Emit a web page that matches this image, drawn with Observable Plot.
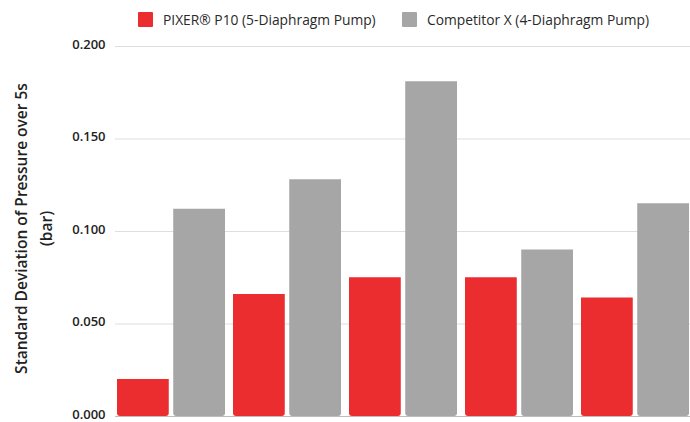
<!DOCTYPE html>
<html>
<head>
<meta charset="utf-8">
<script src="https://cdn.jsdelivr.net/npm/d3@7"></script>
<script src="https://cdn.jsdelivr.net/npm/@observablehq/plot@0.6"></script>
<style>
  html, body { margin: 0; padding: 0; background: #fff; overflow: hidden; }
  body { width: 690px; height: 422px; font-family: "Open Sans", sans-serif; }
  #legend { position: relative; height: 36px; }
  .sw { position: absolute; top: 12px; width: 15px; height: 15px; border-radius: 1px; }
  .lt { position: absolute; top: 10.5px; font-size: 13.8px; font-weight: 500; color: #2a2a2a; white-space: nowrap; line-height: 18px; }
  svg { display: block; }
</style>
</head>
<body>
<div id="legend"></div>
<div id="chart"></div>
<script>
const groups = ["1", "2", "3", "4", "5"];
const pixerValues = [0.020, 0.066, 0.075, 0.075, 0.064];
const competitorValues = [0.112, 0.128, 0.181, 0.090, 0.115];
const seriesNames = ["PIXER® P10 (5-Diaphragm Pump)", "Competitor X (4-Diaphragm Pump)"];
const seriesColors = ["#EC2D2F", "#A6A6A6"];
const yTicks = [0, 0.05, 0.1, 0.15, 0.2];
const yTitle = ["Standard Deviation of Pressure over 5s", "(bar)"];

// legend
const legend = document.getElementById("legend");
const legendPos = [[138, 163], [402, 427]];
seriesNames.forEach((name, i) => {
  const sw = document.createElement("div");
  sw.className = "sw";
  sw.style.left = legendPos[i][0] + "px";
  sw.style.background = seriesColors[i];
  legend.appendChild(sw);
  const t = document.createElement("div");
  t.className = "lt";
  t.style.left = legendPos[i][1] + "px";
  t.textContent = name;
  legend.appendChild(t);
});

const table = groups.map((g, i) => ({group: g, pixer: pixerValues[i], competitor: competitorValues[i]}));

const width = 690, marginLeft = 115, marginRight = 0;
const padInner = 0.07;
const step = (width - marginLeft - marginRight) / (groups.length - padInner);
const band = step * (1 - padInner);
const half = band / 2 + 2;

const chart = Plot.plot({
  width,
  height: 386,
  marginTop: 10,
  marginBottom: 6,
  marginLeft,
  marginRight,
  style: {fontFamily: "Open Sans, sans-serif", background: "#fff"},
  x: {domain: groups, padding: padInner, paddingOuter: 0, axis: null},
  y: {domain: [0, 0.2], axis: null},
  marks: [
    Plot.ruleY(yTicks, {y: d => d, stroke: "#dedede", strokeWidth: 1}),
    Plot.barY(table, {x: "group", y: "pixer", fill: seriesColors[0], insetRight: half, ry2: 3}),
    Plot.barY(table, {x: "group", y: "competitor", fill: seriesColors[1], insetLeft: half, ry2: 3}),
    Plot.ruleY([0], {stroke: "#bdbdbd", strokeWidth: 1.2}),
    Plot.axisY({ticks: yTicks, tickFormat: d3.format(".3f"), tickSize: 0, tickPadding: 10, label: null,
      fontSize: 13, fontWeight: 600, fill: "#222", dy: -2}),
    Plot.text([yTitle.join("\n")], {frameAnchor: "left", rotate: -90, dx: -84, dy: -3, textAnchor: "middle",
      lineAnchor: "middle", lineHeight: 1.6, fontSize: 15.5, fontWeight: 600, fill: "#222"})
  ]
});
document.getElementById("chart").appendChild(chart);
</script>
</body>
</html>
